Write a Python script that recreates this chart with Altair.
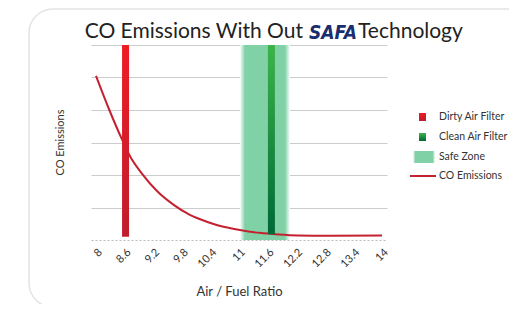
import altair as alt
import pandas as pd

# ---- data ----
afr = [8.0, 8.28, 8.55, 8.72, 8.96, 9.29, 9.63, 9.97, 10.37, 10.61, 11.02, 11.43, 11.83, 12.24, 12.9, 14.0]
co = [5.05, 4.0, 3.08, 2.56, 2.05, 1.49, 1.08, 0.77, 0.54, 0.43, 0.31, 0.22, 0.17, 0.14, 0.13, 0.14]

filter_names = ["Dirty Air Filter", "Clean Air Filter"]
filter_afr = [8.62, 11.68]
filter_top = [6.0, 6.0]
filter_bottom = [0.1, 0.18]

safe_start = [11.02]
safe_end = [12.07]
safe_top = [6.0]

x_ticks = [8, 8.6, 9.2, 9.8, 10.4, 11, 11.6, 12.2, 12.8, 13.4, 14]
y_grid = [1, 2, 3, 4, 5, 6]

legend_labels = ["Dirty Air Filter", "Clean Air Filter", "Safe Zone", "CO Emissions"]

FONT = "Lato"
TXT = "#333333"

curve_df = pd.DataFrame({"afr": afr, "co": co})
filt_df = pd.DataFrame({"name": filter_names, "afr": filter_afr, "top": filter_top, "bottom": filter_bottom})
safe_df = pd.DataFrame({"start": safe_start, "end": safe_end, "top": safe_top, "bottom": [0.0]})

xs = alt.Scale(domain=[8, 14], nice=False, zero=False)
ys = alt.Scale(domain=[0, 6], nice=False)

x_axis = alt.Axis(values=x_ticks, format="~g", labelAngle=-45, labelFont=FONT, labelFontSize=11,
                  labelColor=TXT, labelOverlap=False, labelFlush=False, ticks=False, grid=False,
                  domainColor="#bbbbbb", domainDash=[2, 2],
                  labelPadding=6, title="Air / Fuel Ratio", titleFont=FONT, titleFontSize=13,
                  titleFontWeight="normal", titleColor=TXT, titleX=148, titleY=51, titleBaseline="middle")
y_axis = alt.Axis(values=y_grid, labels=False, ticks=False, domain=False, grid=True, gridColor="#cccccc",
                  title="CO Emissions", titleFont=FONT, titleFontSize=11, titleFontWeight="normal",
                  titleColor=TXT, titleAngle=-90, titleX=-31, titleY=97, titleBaseline="middle")

safe_grad = alt.Gradient(gradient="linear", x1=0, x2=1, y1=0, y2=0, stops=[
    alt.GradientStop(offset=0, color="#ffffff"),
    alt.GradientStop(offset=0.1, color="#80d1a6"),
    alt.GradientStop(offset=0.9, color="#80d1a6"),
    alt.GradientStop(offset=1, color="#ffffff"),
])
red_grad = alt.Gradient(gradient="linear", x1=0, x2=0, y1=0, y2=1, stops=[
    alt.GradientStop(offset=0, color="#ee1c25"),
    alt.GradientStop(offset=1, color="#bf1e2e"),
])
green_grad = alt.Gradient(gradient="linear", x1=0, x2=0, y1=0, y2=1, stops=[
    alt.GradientStop(offset=0, color="#3bb44a"),
    alt.GradientStop(offset=1, color="#006838"),
])

one = alt.Data(values=[{}])

card = alt.Chart(one).mark_rect(cornerRadius=24, fillOpacity=0, stroke="#e4e4e4", strokeWidth=1.5).encode(
    x=alt.value(-62), x2=alt.value(520), y=alt.value(-36), y2=alt.value(262))

safe = alt.Chart(safe_df).mark_rect(fill=safe_grad).encode(
    x=alt.X("start:Q", scale=xs, axis=x_axis), x2="end:Q",
    y=alt.Y("top:Q", scale=ys, axis=y_axis), y2="bottom:Q")

curve = alt.Chart(curve_df).mark_line(color="#c4212f", strokeWidth=2, interpolate="monotone").encode(
    x=alt.X("afr:Q", scale=xs, axis=x_axis), y=alt.Y("co:Q", scale=ys, axis=y_axis))

dirty = alt.Chart(filt_df).transform_filter(alt.datum.name == filter_names[0]).mark_bar(size=7, fill=red_grad).encode(
    x=alt.X("afr:Q", scale=xs, axis=x_axis), y=alt.Y("top:Q", scale=ys, axis=y_axis), y2="bottom:Q")
clean = alt.Chart(filt_df).transform_filter(alt.datum.name == filter_names[1]).mark_bar(size=7, fill=green_grad).encode(
    x=alt.X("afr:Q", scale=xs, axis=x_axis), y=alt.Y("top:Q", scale=ys, axis=y_axis), y2="bottom:Q")

# ---- title ----
title_parts = [
    alt.Chart(one).mark_text(text="CO Emissions With Out", font=FONT, fontSize=21, color="#222222",
                             align="right", baseline="alphabetic").encode(x=alt.value(212), y=alt.value(-7)),
    alt.Chart(one).mark_text(text="SAFA", font="DejaVu Sans Condensed", fontSize=19, fontWeight="bold",
                             fontStyle="italic", color="#1b2d6e",
                             align="left", baseline="alphabetic").encode(x=alt.value(218), y=alt.value(-6)),
    alt.Chart(one).mark_text(text="Technology", font=FONT, fontSize=21, color="#222222",
                             align="left", baseline="alphabetic").encode(x=alt.value(267), y=alt.value(-7)),
]

# ---- legend ----
leg_y = [72, 92, 112, 131]
legend = [
    alt.Chart(one).mark_rect(fill=red_grad).encode(x=alt.value(328), x2=alt.value(335), y=alt.value(68), y2=alt.value(76)),
    alt.Chart(one).mark_rect(fill=green_grad).encode(x=alt.value(328), x2=alt.value(335), y=alt.value(88), y2=alt.value(96)),
    alt.Chart(one).mark_rect(fill=safe_grad).encode(x=alt.value(322), x2=alt.value(344), y=alt.value(106), y2=alt.value(118)),
    alt.Chart(one).mark_rule(color="#c4212f", strokeWidth=2).encode(x=alt.value(319), x2=alt.value(345), y=alt.value(131)),
]
for lab, yy in zip(legend_labels, leg_y):
    legend.append(alt.Chart(one).mark_text(text=lab, font=FONT, fontSize=10.5, color=TXT, align="left",
                                           baseline="middle").encode(x=alt.value(348), y=alt.value(yy)))

chart = alt.layer(card, safe, curve, dirty, clean, *title_parts, *legend).properties(
    width=296, height=195,
    autosize=alt.AutoSizeParams(type="none"),
    padding={"left": 83, "top": 37, "right": 122, "bottom": 64},
    background="white",
).configure_view(stroke=None)

chart.save("out.html", embed_options={"renderer": "svg", "actions": False})
